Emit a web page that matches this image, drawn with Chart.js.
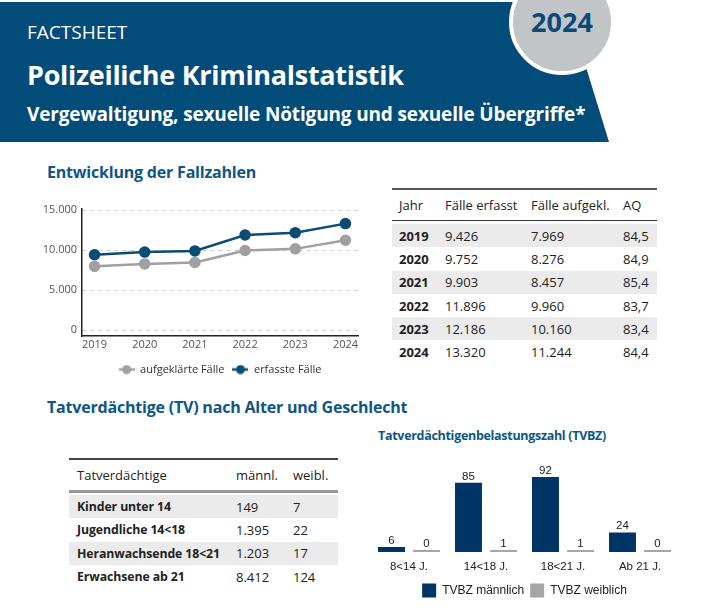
<!DOCTYPE html>
<html>
<head>
<meta charset="utf-8">
<script src="https://cdn.jsdelivr.net/npm/chart.js@4.4.1/dist/chart.umd.min.js"></script>
<style>
body { margin: 0; width: 718px; height: 616px; position: relative; overflow: hidden; background: #fff; font-family: "Open Sans", sans-serif; color: #222; }
#band { position: absolute; left: 0; top: 0; }
.hd { position: absolute; left: 27px; color: #fff; white-space: nowrap; line-height: 1; }
#fs { top: 23px; font-size: 19px; }
#title { top: 61px; font-size: 27px; font-weight: 700; letter-spacing: -0.3px; }
#sub { top: 105px; font-size: 19px; font-weight: 700; letter-spacing: -0.15px; }
#year { position: absolute; left: 512px; top: 8px; width: 100px; text-align: center; font-size: 27px; font-weight: 700; color: #0b4a78; line-height: 28px; }
.sec { position: absolute; left: 47px; font-weight: 700; font-size: 16px; letter-spacing: -0.2px; color: #0d5685; white-space: nowrap; line-height: 1; }
#sec1 { top: 164px; }
#sec2 { top: 399px; }
#bartitle { position: absolute; left: 378px; top: 430px; font-size: 12.5px; letter-spacing: -0.3px; font-weight: 700; color: #0d5685; line-height: 1; white-space: nowrap; }
table { position: absolute; border-collapse: collapse; font-size: 13px; }
td, th { padding: 0; text-align: left; font-weight: 400; white-space: nowrap; }
#t1 { left: 392px; top: 188px; width: 265px; border-top: 2px solid #555; }
#t1 thead tr { height: 31px; border-bottom: 1.5px solid #333; }
#t1 tbody tr { height: 23.3px; }
#t1 td:first-child, #t1 th:first-child { padding-left: 7px; font-weight: 700; }
#t1 th:first-child { font-weight: 400; }
#t2 { left: 69px; top: 458px; width: 269px; border-top: 2px solid #444; }
#t2 thead tr { height: 32px; border-bottom: 3px solid #999; }
#t2 tbody tr { height: 23.3px; }
#t2 td:first-child, #t2 th:first-child { padding-left: 8px; }
#t2 td:first-child { font-weight: 700; font-size: 12.3px; letter-spacing: -0.1px; }
tr.sp { height: 4px !important; }
tr.g { background: #ebebeb; }
#c1 { position: absolute; left: 30px; top: 195px; }
#c2 { position: absolute; left: 360px; top: 448px; }
</style>
</head>
<body>
<svg id="band" width="718" height="150">
  <polygon points="0,2 566,2 609,142 0,142" fill="#024c79"/>
  <circle cx="562" cy="22" r="51" fill="#c1c5c8" stroke="#fff" stroke-width="4"/>
</svg>
<div class="hd" id="fs">FACTSHEET</div>
<div class="hd" id="title">Polizeiliche Kriminalstatistik</div>
<div class="hd" id="sub">Vergewaltigung, sexuelle Nötigung und sexuelle Übergriffe*</div>
<div id="year">2024</div>

<div class="sec" id="sec1">Entwicklung der Fallzahlen</div>
<div class="sec" id="sec2">Tatverdächtige (TV) nach Alter und Geschlecht</div>
<div id="bartitle">Tatverdächtigenbelastungszahl (TVBZ)</div>

<canvas id="c1" width="340" height="190"></canvas>

<table id="t1">
  <colgroup><col style="width:53px"><col style="width:86px"><col style="width:92px"><col style="width:34px"></colgroup>
  <thead><tr><th>Jahr</th><th>Fälle erfasst</th><th>Fälle aufgekl.</th><th>AQ</th></tr></thead>
  <tbody id="t1body"></tbody>
</table>

<table id="t2">
  <colgroup><col style="width:167px"><col style="width:57px"><col style="width:45px"></colgroup>
  <thead><tr><th>Tatverdächtige</th><th>männl.</th><th>weibl.</th></tr></thead>
  <tbody id="t2body"></tbody>
</table>

<canvas id="c2" width="340" height="168"></canvas>

<script>
// Fallzahlen
var years = [2019, 2020, 2021, 2022, 2023, 2024];
var erfasst = [9426, 9752, 9903, 11896, 12186, 13320];
var aufgeklaert = [7969, 8276, 8457, 9960, 10160, 11244];
var aq = ['84,5', '84,9', '85,4', '83,7', '83,4', '84,4'];

// Tatverdaechtige
var tvGruppen = ['Kinder unter 14', 'Jugendliche 14<18', 'Heranwachsende 18<21', 'Erwachsene ab 21'];
var tvMaennl = [149, 1395, 1203, 8412];
var tvWeibl = [7, 22, 17, 124];

// TVBZ
var tvbzLabels = ['8<14 J.', '14<18 J.', '18<21 J.', 'Ab 21 J.'];
var tvbzMaennl = [6, 85, 92, 24];
var tvbzWeibl = [0, 1, 1, 0];

function fmt(n) {
    return String(n).replace(/\B(?=(\d{3})+(?!\d))/g, '.');
}

function fillTables() {
    var rows = '<tr class="sp"><td colspan="4"></td></tr>';
    for (var i = 0; i < years.length; i++) {
        rows += '<tr' + (i % 2 == 0 ? ' class="g"' : '') + '><td>' + years[i] + '</td><td>' + fmt(erfasst[i]) +
            '</td><td>' + fmt(aufgeklaert[i]) + '</td><td>' + aq[i] + '</td></tr>';
    }
    document.getElementById('t1body').innerHTML = rows;

    rows = '<tr class="sp"><td colspan="3"></td></tr>';
    for (var j = 0; j < tvGruppen.length; j++) {
        var name = tvGruppen[j].replace('<', '&lt;');
        rows += '<tr' + (j % 2 == 0 ? ' class="g"' : '') + '><td>' + name + '</td><td>' + fmt(tvMaennl[j]) +
            '</td><td>' + fmt(tvWeibl[j]) + '</td></tr>';
    }
    document.getElementById('t2body').innerHTML = rows;
}

function legendIcon(color) {
    var c = document.createElement('canvas');
    c.width = 16; c.height = 10;
    var x = c.getContext('2d');
    x.strokeStyle = color; x.lineWidth = 2.5;
    x.beginPath(); x.moveTo(0, 5); x.lineTo(16, 5); x.stroke();
    x.fillStyle = color;
    x.beginPath(); x.arc(8, 5, 4.5, 0, Math.PI * 2); x.fill();
    return c;
}

function makeLineChart() {
    var gray = '#a0a0a0';
    var blue = '#0a4c74';
    var pts = function(arr) { return arr.map(function(v, i) { return { x: years[i], y: v }; }); };
    new Chart(document.getElementById('c1'), {
        type: 'line',
        data: {
            datasets: [{
                label: 'aufgeklärte Fälle',
                data: pts(aufgeklaert),
                borderColor: gray, backgroundColor: gray,
                borderWidth: 2.5, pointRadius: 4.5
            }, {
                label: 'erfasste Fälle',
                data: pts(erfasst),
                borderColor: blue, backgroundColor: blue,
                borderWidth: 2.5, pointRadius: 4.5
            }]
        },
        options: {
            responsive: false,
            animation: false,
            layout: { padding: { left: 0, right: 12, top: 14, bottom: 0 } },
            plugins: {
                tooltip: { enabled: false },
                legend: {
                    position: 'bottom',
                    fullSize: false,
                    labels: {
                        usePointStyle: true,
                        pointStyleWidth: 16,
                        color: '#333',
                        font: { family: 'Open Sans', size: 11 },
                        padding: 8,
                        generateLabels: function(chart) {
                            return chart.data.datasets.map(function(ds, i) {
                                return { text: ds.label, pointStyle: legendIcon(ds.borderColor), fillStyle: ds.borderColor,
                                    strokeStyle: ds.borderColor, lineWidth: 0, datasetIndex: i, fontColor: '#333' };
                            });
                        }
                    }
                }
            },
            scales: {
                x: {
                    type: 'linear', min: 2018.75, max: 2024.25,
                    afterBuildTicks: function(s) { s.ticks = years.map(function(y) { return { value: y }; }); },
                    afterFit: function(s) { s.height = 20; },
                    grid: { display: false, drawTicks: false },
                    border: { display: true, color: '#222', width: 1.5 },
                    ticks: { color: '#555', font: { family: 'Open Sans', size: 11 }, padding: 2,
                        callback: function(v) { return String(v); } }
                },
                y: {
                    min: -750, max: 15150,
                    afterBuildTicks: function(s) { s.ticks = [0, 5000, 10000, 15000].map(function(v) { return { value: v }; }); },
                    afterFit: function(s) { s.width = 52; },
                    grid: { color: '#cfcfcf', lineWidth: 1, drawTicks: false },
                    border: { display: true, color: '#222', width: 1.5, dash: [4, 4] },
                    ticks: { color: '#555', font: { family: 'Open Sans', size: 11 }, padding: 5,
                        callback: function(v) { return fmt(v); } }
                }
            }
        }
    });
}

var valueLabels = {
    id: 'valueLabels',
    afterDatasetsDraw: function(chart) {
        var ctx = chart.ctx;
        ctx.save();
        ctx.font = '11.5px "Liberation Sans", Arial, sans-serif';
        ctx.fillStyle = '#222';
        ctx.textAlign = 'center';
        ctx.textBaseline = 'alphabetic';
        chart.data.datasets.forEach(function(ds, i) {
            chart.getDatasetMeta(i).data.forEach(function(bar, j) {
                ctx.fillText(ds.data[j], bar.x, bar.y - 3);
            });
        });
        ctx.restore();
    }
};

function makeBarChart() {
    new Chart(document.getElementById('c2'), {
        type: 'bar',
        data: {
            labels: tvbzLabels,
            datasets: [{
                label: 'TVBZ männlich',
                data: tvbzMaennl,
                backgroundColor: '#013566',
                minBarLength: 2
            }, {
                label: 'TVBZ weiblich',
                data: tvbzWeibl,
                backgroundColor: '#a6a6a6',
                minBarLength: 2
            }]
        },
        plugins: [valueLabels],
        options: {
            responsive: false,
            animation: false,
            categoryPercentage: 0.91,
            barPercentage: 0.77,
            layout: { padding: { left: 10.5, right: 21.5, top: 22.5, bottom: 8.5 } },
            plugins: {
                tooltip: { enabled: false },
                legend: {
                    position: 'bottom',
                    labels: {
                        boxWidth: 14, boxHeight: 14, padding: 6,
                        color: '#222',
                        font: { family: 'Liberation Sans', size: 12 }
                    }
                }
            },
            scales: {
                x: {
                    grid: { display: false, drawTicks: false },
                    border: { display: false },
                    afterFit: function(s) { s.height = 25.5; },
                    ticks: { color: '#222', font: { family: 'Liberation Sans', size: 11.5 }, padding: 8 }
                },
                y: { display: false, min: 0, max: 100 }
            }
        }
    });
}

window.onload = function() {
    fillTables();
    makeLineChart();
    makeBarChart();
};
</script>
</body>
</html>
